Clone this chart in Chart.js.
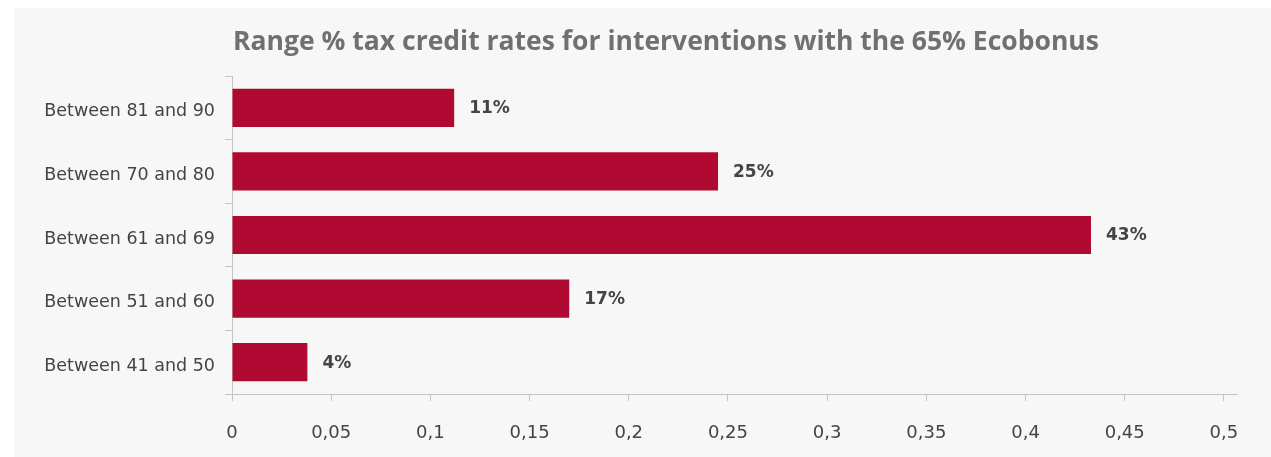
<!DOCTYPE html>
<html>
<head>
<meta charset="utf-8">
<script src="https://cdn.jsdelivr.net/npm/chart.js@4"></script>
<style>
  body { margin: 0; background: #ffffff; }
  #wrap { position: absolute; left: 14px; top: 8px; width: 1257px; height: 449px; background: #f7f7f7; }
</style>
</head>
<body>
<div id="wrap"><canvas id="rangeChart"></canvas></div>
<script>
const categories = ['Between 81 and 90', 'Between 70 and 80', 'Between 61 and 69', 'Between 51 and 60', 'Between 41 and 50'];
const shares = [0.112, 0.245, 0.433, 0.170, 0.038];
const xTicks = [0, 0.05, 0.1, 0.15, 0.2, 0.25, 0.3, 0.35, 0.4, 0.45, 0.5];

const chartTitle = 'Range % tax credit rates for interventions with the 65% Ecobonus';
const barColor = '#b00a32';
const axisColor = '#c4c4c4';
const textColor = '#444444';
const fontFamily = '"DejaVu Sans", sans-serif';

// title is drawn by hand so it can sit a bit right of the canvas centre, like the original
const titleText = {
    id: 'titleText',
    afterDraw(chart) {
        const ctx = chart.ctx;
        ctx.save();
        ctx.font = 'bold 26.5px "Open Sans", sans-serif';
        ctx.fillStyle = '#707070';
        ctx.textAlign = 'center';
        ctx.textBaseline = 'middle';
        ctx.fillText(chartTitle, 652, 34);
        ctx.restore();
    }
};

// percent labels at the end of each bar
const barLabels = {
    id: 'barLabels',
    afterDatasetsDraw(chart) {
        const ctx = chart.ctx;
        const meta = chart.getDatasetMeta(0);
        ctx.save();
        ctx.font = 'bold 17px ' + fontFamily;
        ctx.fillStyle = textColor;
        ctx.textAlign = 'left';
        ctx.textBaseline = 'middle';
        meta.data.forEach(function(bar, i) {
            ctx.fillText(Math.round(shares[i] * 100) + '%', bar.x + 15, bar.y + 1);
        });
        ctx.restore();
    }
};

new Chart(document.getElementById('rangeChart'), {
    type: 'bar',
    data: {
        labels: categories,
        datasets: [{
            data: shares,
            backgroundColor: barColor,
            borderWidth: 0,
            barPercentage: 0.6,
            categoryPercentage: 1
        }]
    },
    options: {
        indexAxis: 'y',
        responsive: true,
        maintainAspectRatio: false,
        animation: false,
        layout: { padding: { left: 0, right: 34, top: 68, bottom: 0 } },
        plugins: {
            legend: { display: false },
            tooltip: { enabled: false },
            title: { display: false }
        },
        scales: {
            x: {
                min: 0,
                max: 0.5066,
                afterBuildTicks: function(scale) {
                    scale.ticks = xTicks.map(function(v) { return { value: v }; });
                },
                afterFit: function(scale) { scale.height = 63; },
                grid: { drawOnChartArea: false, tickLength: 7, color: axisColor },
                border: { color: axisColor },
                ticks: {
                    padding: 22,
                    color: textColor,
                    maxRotation: 0,
                    font: { family: fontFamily, size: 18 },
                    callback: function(v) { return String(v).replace('.', ','); }
                }
            },
            y: {
                afterFit: function(scale) { scale.width = 218; },
                grid: { drawOnChartArea: false, tickLength: 7, color: axisColor },
                border: { color: axisColor },
                ticks: {
                    padding: 10,
                    labelOffset: 4,
                    color: textColor,
                    font: { family: fontFamily, size: 17.5 }
                }
            }
        }
    },
    plugins: [titleText, barLabels]
});
</script>
</body>
</html>
